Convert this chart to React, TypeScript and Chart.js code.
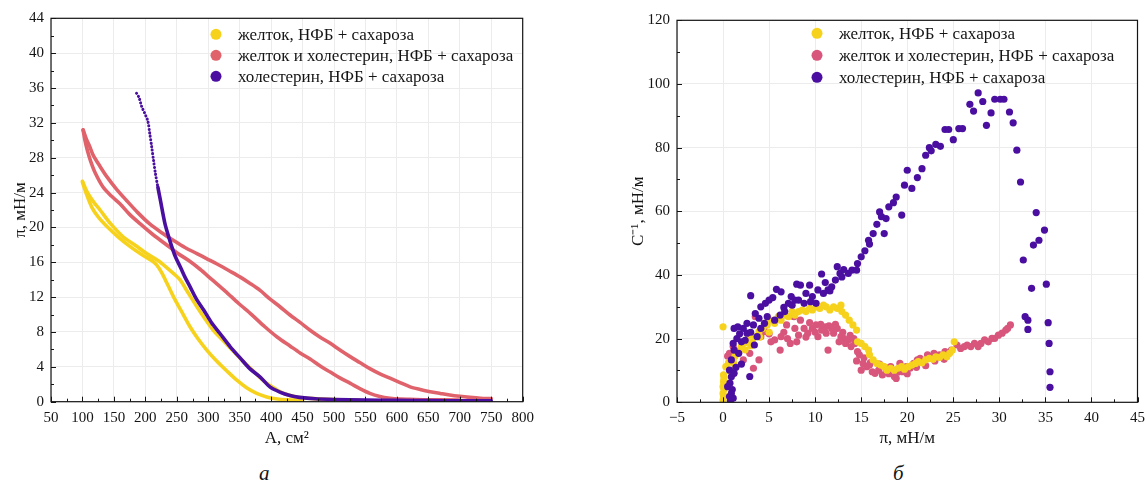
import React, { useEffect, useRef } from 'react';
import { Chart, registerables } from 'chart.js';

Chart.register(...registerables);

// ---------- names & colours ----------
const SERIES_NAMES = [
  'желток, НФБ + сахароза',
  'желток и холестерин, НФБ + сахароза',
  'холестерин, НФБ + сахароза',
];
const COLORS_A = ['#f6d21c', '#e0636b', '#4a0fa0'];
const COLORS_B = ['#f6d21c', '#d8567c', '#4a0fa0'];

// ---------- panel а: isotherms (A, см² ; π, мН/м) ----------
const yolkUpper: [number, number][] = [
  [100, 25.3], [108, 24.0], [118, 22.9], [128, 22.0], [145, 20.4], [165, 18.9], [185, 17.9],
  [202, 17.0], [220, 16.2], [234, 15.4], [245, 14.7], [255, 14.0], [268, 12.5], [282, 10.9],
  [295, 9.5], [308, 8.2], [324, 7.0], [340, 5.8], [356, 4.6], [372, 3.5], [388, 2.4],
  [404, 1.6], [418, 1.0], [440, 0.55], [467, 0.35], [500, 0.25], [540, 0.2],
];
const yolkLower: [number, number][] = [
  [100, 25.2], [106, 23.9], [115, 22.3], [125, 21.2], [139, 20.1], [157, 18.9], [176, 17.8],
  [196, 16.8], [210, 16.2], [218, 15.7], [226, 14.8], [235, 13.5], [245, 12.0], [258, 10.3],
  [271, 8.6], [284, 7.2], [298, 5.9], [313, 4.7], [330, 3.5], [345, 2.5], [361, 1.6],
  [377, 0.95], [393, 0.55], [410, 0.3], [425, 0.22], [450, 0.18],
];
const mixUpper: [number, number][] = [
  [101, 31.2], [106, 30.2], [112, 29.2], [117, 28.3], [128, 27.0], [139, 25.8], [154, 24.4],
  [170, 23.1], [188, 21.7], [207, 20.4], [226, 19.4], [245, 18.5], [263, 17.7], [282, 17.0],
  [298, 16.4], [314, 15.8], [334, 15.0], [351, 14.3], [366, 13.6], [382, 12.8], [398, 11.8],
  [414, 10.9], [430, 9.95], [446, 9.1], [462, 8.2], [478, 7.4], [494, 6.7], [510, 5.9],
  [525, 5.2], [541, 4.5], [557, 3.8], [573, 3.2], [589, 2.7], [605, 2.2], [621, 1.7],
  [637, 1.4], [653, 1.15], [669, 0.95], [684, 0.77], [700, 0.62], [716, 0.5], [733, 0.4],
  [750, 0.35],
];
const mixLower: [number, number][] = [
  [101, 31.2], [104, 30.0], [108, 28.8], [113, 27.6], [120, 26.3], [133, 24.6], [146, 23.6],
  [160, 22.7], [175, 21.5], [192, 20.4], [210, 19.3], [232, 18.1], [250, 17.1], [269, 16.2],
  [287, 15.2], [306, 14.0], [327, 12.7], [348, 11.3], [369, 10.0], [390, 8.6], [410, 7.4],
  [430, 6.4], [446, 5.6], [462, 4.9], [478, 4.1], [494, 3.4], [510, 2.7], [526, 2.1],
  [541, 1.5], [557, 0.96], [573, 0.6], [589, 0.4], [605, 0.3], [621, 0.27], [650, 0.22],
  [700, 0.2],
];
const cholCurve: [number, number][] = [
  [186, 35.4], [190, 34.9], [194, 33.9], [199, 33.1], [204, 32.2], [207, 30.8], [210, 29.3],
  [213, 27.7], [216, 26.2], [220, 24.6], [224, 23.1], [231, 20.5], [236, 19.2], [242, 17.8],
  [248, 16.6], [256, 15.4], [263, 14.3], [271, 13.2], [281, 11.8], [293, 10.5], [305, 9.1],
  [319, 7.8], [335, 6.3], [351, 5.0], [366, 3.8], [383, 2.8], [398, 1.7], [414, 1.1],
  [430, 0.7], [445, 0.5], [470, 0.33], [500, 0.25], [550, 0.18], [600, 0.15], [650, 0.12],
  [700, 0.1], [750, 0.1],
];
// above this surface pressure the cholesterol isotherm is drawn as sparse dots
const CHOL_DOTTED_ABOVE = 25;

// ---------- panel б: compressibility modulus (π ; C⁻¹) ----------
const yolkB: [number, number][] = [
  [0.0, 23.7], [0.0, 0.7], [0.05, 2.0], [0.0, 2.8], [0.1, 4.0], [0.0, 4.9], [0.1, 6.0],
  [0.05, 6.5], [0.1, 7.5], [0.05, 8.6], [0.3, 11.2], [0.6, 12.5], [0.8, 10.0], [1.1, 13.3],
  [1.2, 12.0], [1.3, 14.5], [1.6, 15.4], [1.8, 16.5], [2.0, 17.5], [2.3, 18.6], [2.4, 16.5],
  [2.6, 19.6], [2.9, 21.1], [3.0, 17.8], [3.2, 19.0], [3.5, 20.6], [3.9, 22.2], [4.0, 20.5],
  [4.3, 23.2], [4.5, 24.8], [4.8, 24.3], [5.0, 22.0], [5.2, 25.8], [5.6, 24.8], [6.0, 26.9],
  [6.3, 25.8], [6.7, 27.4], [7.1, 26.9], [7.5, 28.5], [7.8, 27.4], [8.2, 28.5], [8.6, 29.0],
  [9.0, 28.5], [9.4, 29.5], [9.7, 29.0], [10.1, 30.0], [10.5, 29.5], [10.9, 30.5], [11.2, 30.0],
  [11.6, 29.0], [12.0, 30.0], [12.4, 29.5], [12.8, 30.5], [12.9, 28.5], [13.3, 27.4],
  [13.7, 25.8], [14.1, 24.3], [14.5, 22.7], [14.6, 19.0], [15.0, 18.5], [15.4, 17.5],
  [15.8, 16.4], [15.9, 14.9], [16.3, 13.3], [16.7, 12.2], [17.1, 11.7], [17.5, 11.2],
  [17.8, 10.1], [18.2, 10.7], [18.6, 10.1], [19.0, 10.7], [19.4, 11.2], [19.7, 10.4],
  [20.1, 11.2], [20.5, 11.7], [20.9, 12.2], [21.2, 12.8], [21.6, 12.4], [22.0, 13.3],
  [22.4, 13.8], [22.8, 13.5], [23.1, 14.3], [23.5, 14.1], [23.9, 14.9], [24.3, 14.3],
  [24.6, 15.4], [24.9, 16.4], [25.1, 19.0],
];
const mixB: [number, number][] = [
  [0.5, 14.5], [0.7, 15.4], [1.1, 17.5], [1.5, 16.0], [2.2, 13.3], [2.9, 15.4], [3.3, 10.7],
  [3.9, 13.3], [3.5, 26.9], [4.1, 20.6], [4.6, 22.2], [5.0, 21.5], [5.2, 19.0], [5.6, 19.6],
  [6.2, 16.4], [6.3, 20.6], [6.6, 22.0], [6.9, 24.3], [7.0, 20.0], [7.3, 18.5], [7.7, 26.9],
  [7.8, 23.2], [8.0, 19.0], [8.2, 21.1], [8.4, 25.8], [8.8, 23.2], [9.0, 20.5], [9.2, 21.7],
  [9.4, 25.0], [9.7, 23.2], [10.0, 22.0], [10.1, 24.3], [10.3, 20.6], [10.6, 24.5],
  [10.7, 22.7], [11.1, 23.7], [11.2, 21.7], [11.4, 16.4], [11.5, 24.0], [11.8, 23.2],
  [12.0, 21.7], [12.2, 24.5], [12.4, 23.2], [12.6, 19.0], [12.8, 20.6], [13.0, 22.0],
  [13.1, 20.1], [13.3, 18.5], [13.6, 19.6], [13.8, 21.0], [13.9, 17.5], [14.2, 20.0],
  [14.3, 18.5], [14.5, 13.0], [14.6, 15.9], [14.8, 14.9], [15.0, 10.1], [15.2, 12.2],
  [15.3, 14.0], [15.6, 11.2], [15.9, 11.7], [16.0, 12.5], [16.2, 9.6], [16.5, 9.1],
  [16.9, 10.1], [17.0, 12.0], [17.3, 8.6], [17.6, 11.0], [17.8, 9.6], [18.0, 9.0],
  [18.2, 11.2], [18.6, 8.1], [18.8, 7.5], [19.0, 9.5], [19.2, 12.2], [19.5, 9.6], [19.9, 11.2],
  [20.0, 9.0], [20.3, 10.7], [20.7, 12.2], [21.0, 11.0], [21.1, 13.3], [21.4, 13.8],
  [21.8, 12.8], [22.0, 11.5], [22.2, 14.9], [22.6, 14.3], [22.9, 15.4], [23.0, 13.0],
  [23.5, 14.9], [24.0, 13.5], [24.1, 15.9], [24.5, 15.4], [24.8, 16.4], [25.4, 18.0],
  [25.8, 16.9], [26.2, 17.5], [26.5, 18.0], [26.9, 17.5], [27.3, 18.5], [27.7, 17.5],
  [28.0, 18.5], [28.4, 19.6], [28.8, 19.0], [29.2, 20.1], [29.5, 20.1], [29.9, 21.1],
  [30.3, 21.7], [30.7, 22.7], [30.9, 23.2], [31.2, 24.3],
];
const cholB: [number, number][] = [
  [0.5, 4.9], [0.7, 1.8], [0.8, 0.5], [1.1, 1.3], [1.0, 4.0], [0.9, 2.8], [0.75, 6.0],
  [0.9, 8.0], [0.7, 10.1], [1.2, 9.1], [1.4, 11.0], [2.0, 12.0], [0.9, 13.3], [1.1, 18.5],
  [1.2, 16.4], [1.7, 15.4], [2.0, 19.0], [1.5, 20.0], [1.8, 21.5], [1.2, 23.2], [1.6, 23.7],
  [2.2, 23.2], [2.4, 19.5], [2.6, 24.8], [2.6, 21.7], [2.9, 8.1], [3.0, 22.0], [3.0, 33.5],
  [3.3, 24.3], [3.4, 18.0], [3.5, 27.9], [3.7, 20.6], [3.9, 26.4], [4.1, 30.0], [4.1, 23.2],
  [4.5, 24.8], [4.6, 31.1], [4.8, 26.9], [5.0, 32.1], [5.4, 32.9], [5.6, 25.8], [5.8, 35.5],
  [6.2, 27.4], [6.3, 34.7], [6.6, 29.8], [6.7, 28.5], [7.1, 31.1], [7.4, 33.2], [7.5, 30.5],
  [7.8, 32.1], [8.0, 37.1], [8.2, 32.1], [8.4, 36.8], [8.8, 31.1], [9.0, 34.2], [9.4, 36.8],
  [9.5, 31.6], [9.7, 33.2], [10.1, 31.1], [10.3, 35.3], [10.7, 40.3], [10.9, 34.2],
  [11.1, 37.6], [11.4, 35.3], [11.6, 35.0], [11.8, 36.3], [12.2, 38.4], [12.4, 42.6],
  [12.7, 40.5], [12.9, 39.4], [13.1, 41.7], [13.6, 40.5], [14.0, 41.5], [14.5, 41.5],
  [14.6, 43.6], [15.0, 45.7], [15.4, 47.6], [15.8, 50.9], [15.9, 49.7], [16.3, 53.0],
  [16.7, 55.9], [17.0, 59.8], [17.2, 58.3], [17.5, 53.0], [17.7, 57.7], [18.0, 61.4],
  [18.5, 62.7], [18.8, 64.5], [19.4, 58.8], [19.7, 68.2], [20.0, 72.9], [20.5, 67.2],
  [21.1, 70.6], [21.6, 73.4], [22.0, 77.6], [22.4, 80.0], [22.6, 79.0], [23.1, 81.0],
  [23.6, 80.4], [24.1, 85.7], [24.5, 85.7], [25.0, 82.5], [25.6, 86.0], [26.0, 86.0],
  [26.8, 93.6], [27.2, 91.5], [27.7, 97.2], [28.2, 94.5], [28.6, 87.0], [29.1, 90.9],
  [29.5, 95.2], [30.1, 95.2], [30.5, 95.2], [31.1, 91.2], [31.5, 87.8], [31.9, 79.2],
  [32.3, 69.2], [32.6, 44.7], [32.8, 26.9], [33.1, 25.8], [33.1, 22.9], [33.5, 35.8],
  [33.7, 49.4], [34.0, 59.6], [34.3, 50.9], [34.9, 54.1], [35.1, 37.1], [35.3, 25.0],
  [35.4, 18.5], [35.5, 9.6], [35.5, 4.7],
];

// ---------- axis ticks ----------
const A_TICKS = { min: 50, max: 800, step: 50 };
const PI_TICKS = { min: 0, max: 44, step: 4 };
const PIB_TICKS = { min: -5, max: 45, step: 5 };
const C_TICKS = { min: 0, max: 120, step: 20 };

const FONT = '"Liberation Serif", "Times New Roman", serif';
const INK = '#141414';

const toXY = (arr: [number, number][]) => arr.map(([x, y]) => ({ x, y }));
const fmt = (v: number) => (v < 0 ? '\u2212' + Math.abs(v) : String(v));

// inward major/minor ticks + frame
const frameTicksPlugin = {
  id: 'frameTicks',
  afterDraw(chart: any) {
    const { ctx, chartArea: ca, scales } = chart;
    const xs = scales.x;
    const ys = scales.y;
    ctx.save();
    ctx.strokeStyle = INK;
    ctx.lineWidth = 1;
    ctx.beginPath();
    const xv = xs.ticks.map((t: any) => t.value);
    const yv = ys.ticks.map((t: any) => t.value);
    const tx = (v: number, len: number) => {
      const p = Math.round(xs.getPixelForValue(v)) + 0.5;
      ctx.moveTo(p, ca.bottom);
      ctx.lineTo(p, ca.bottom - len);
    };
    const ty = (v: number, len: number) => {
      const p = Math.round(ys.getPixelForValue(v)) + 0.5;
      ctx.moveTo(ca.left, p);
      ctx.lineTo(ca.left + len, p);
    };
    xv.forEach((v: number, i: number) => {
      tx(v, 5);
      if (i < xv.length - 1) tx((v + xv[i + 1]) / 2, 3);
    });
    yv.forEach((v: number, i: number) => {
      ty(v, 5);
      if (i < yv.length - 1) ty((v + yv[i + 1]) / 2, 3);
    });
    ctx.stroke();
    ctx.lineWidth = 1.2;
    ctx.strokeRect(ca.left, ca.top, ca.right - ca.left, ca.bottom - ca.top);
    ctx.restore();
  },
};

// legend drawn inside the plot area
const insideLegendPlugin = {
  id: 'insideLegend',
  afterDraw(chart: any, _args: any, opts: any) {
    const { ctx, chartArea: ca } = chart;
    ctx.save();
    ctx.font = `${opts.fontSize}px ${FONT}`;
    ctx.textBaseline = 'middle';
    ctx.textAlign = 'left';
    SERIES_NAMES.forEach((name, i) => {
      const x = ca.left + opts.dx;
      const y = ca.top + opts.dy + i * opts.gap;
      ctx.fillStyle = opts.colors[i];
      ctx.beginPath();
      ctx.arc(x, y, opts.r, 0, Math.PI * 2);
      ctx.fill();
      ctx.fillStyle = INK;
      ctx.fillText(name, x + opts.textGap, y + 1);
    });
    ctx.restore();
  },
};

function makeScale(
  t: { min: number; max: number; step: number },
  title: string,
  axis: 'x' | 'y',
  fixed: number,
  pad: number,
) {
  return {
    type: 'linear',
    min: t.min,
    max: t.max,
    ticks: {
      stepSize: t.step,
      padding: pad,
      color: INK,
      font: { family: FONT, size: 15 },
      maxRotation: 0,
      autoSkip: false,
      callback: (v: any) => fmt(Number(v)),
    },
    grid: { color: '#ececec', lineWidth: 1, drawTicks: false },
    border: { display: false },
    title: {
      display: true,
      text: title,
      color: INK,
      font: { family: FONT, size: 17 },
      padding: { top: 4, bottom: 4 },
    },
    afterFit: (s: any) => {
      if (axis === 'x') s.height = fixed;
      else s.width = fixed;
      s.paddingLeft = 0;
      s.paddingRight = 0;
      s.paddingTop = 0;
      s.paddingBottom = 0;
    },
  };
}

function lineDs(data: [number, number][], color: string, order: number, dottedAbove?: number) {
  const ds: any = {
    data: toXY(data),
    showLine: true,
    borderColor: color,
    backgroundColor: color,
    borderWidth: 3.6,
    pointRadius: 0,
    pointHoverRadius: 0,
    tension: 0.3,
    borderCapStyle: 'round',
    borderJoinStyle: 'round',
    fill: false,
    order,
  };
  if (dottedAbove !== undefined) {
    ds.segment = {
      borderDash: (c: any) => (c.p0.parsed.y > dottedAbove ? [0.1, 3.4] : undefined),
      borderWidth: (c: any) => (c.p0.parsed.y > dottedAbove ? 3.0 : 3.6),
    };
  }
  return ds;
}

function dotDs(data: [number, number][], color: string, order: number) {
  return {
    data: toXY(data),
    showLine: false,
    backgroundColor: color,
    borderColor: color,
    borderWidth: 0,
    pointRadius: 3.6,
    pointHoverRadius: 3.6,
    order,
  };
}

export default function App() {
  const refA = useRef<HTMLCanvasElement>(null);
  const refB = useRef<HTMLCanvasElement>(null);

  useEffect(() => {
    const chartA = new Chart(refA.current as HTMLCanvasElement, {
      type: 'scatter',
      data: {
        datasets: [
          lineDs(yolkUpper, COLORS_A[0], 3),
          lineDs(yolkLower, COLORS_A[0], 3),
          lineDs(mixUpper, COLORS_A[1], 2),
          lineDs(mixLower, COLORS_A[1], 2),
          lineDs(cholCurve, COLORS_A[2], 1, CHOL_DOTTED_ABOVE),
        ] as any,
      },
      options: {
        responsive: false,
        animation: false,
        events: [],
        layout: { padding: { left: 6.4, top: 18.3, right: 22.3, bottom: 0 } },
        scales: {
          x: makeScale(A_TICKS, 'A, см²', 'x', 51.3, 7),
          y: makeScale(PI_TICKS, 'π, мН/м', 'y', 44.6, 7),
        } as any,
        plugins: {
          legend: { display: false },
          tooltip: { enabled: false },
          insideLegend: { colors: COLORS_A, dx: 165, dy: 16, gap: 21, r: 5.5, textGap: 22, fontSize: 17 },
        } as any,
      },
      plugins: [frameTicksPlugin, insideLegendPlugin],
    });

    const chartB = new Chart(refB.current as HTMLCanvasElement, {
      type: 'scatter',
      data: {
        datasets: [
          dotDs(yolkB, COLORS_B[0], 1),
          dotDs(mixB, COLORS_B[1], 2),
          dotDs(cholB, COLORS_B[2], 0),
        ] as any,
      },
      options: {
        responsive: false,
        animation: false,
        events: [],
        layout: { padding: { left: 24.4, top: 20.3, right: 7.5, bottom: 0 } },
        scales: {
          x: makeScale(PIB_TICKS, 'π, мН/м', 'x', 50.7, 7),
          y: makeScale(C_TICKS, 'C⁻¹, мН/м', 'y', 52.6, 7),
        } as any,
        plugins: {
          legend: { display: false },
          tooltip: { enabled: false },
          insideLegend: { colors: COLORS_B, dx: 140, dy: 13, gap: 22, r: 5.5, textGap: 22, fontSize: 17 },
        } as any,
      },
      plugins: [frameTicksPlugin, insideLegendPlugin],
    });

    return () => {
      chartA.destroy();
      chartB.destroy();
    };
  }, []);

  const caption: React.CSSProperties = {
    position: 'absolute',
    top: 461,
    font: `italic 21px ${FONT}`,
    color: INK,
    lineHeight: '24px',
  };

  return (
    <div style={{ position: 'absolute', left: 0, top: 0, width: 1145, height: 480, background: '#fff' }}>
      <canvas ref={refA} width={545} height={453} style={{ position: 'absolute', left: 0, top: 0 }} />
      <canvas ref={refB} width={545} height={453} style={{ position: 'absolute', left: 600, top: 0 }} />
      <div style={{ ...caption, left: 259 }}>а</div>
      <div style={{ ...caption, left: 893 }}>б</div>
    </div>
  );
}
